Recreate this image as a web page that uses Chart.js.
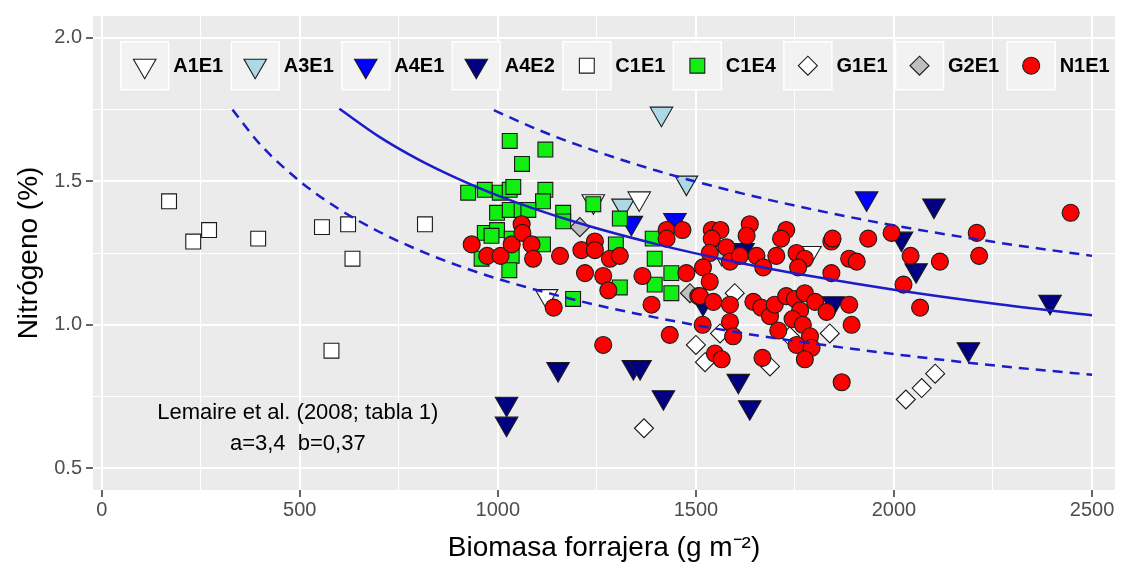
<!DOCTYPE html>
<html>
<head>
<meta charset="utf-8">
<script src="https://cdn.jsdelivr.net/npm/chart.js@4/dist/chart.umd.min.js"></script>
<style>
  body { margin: 0; background: #ffffff; }
  canvas { display: block; }
</style>
</head>
<body>
<canvas id="chart" width="1130" height="567"></canvas>
<script>
// axis breaks (major + minor grid)
var xTicks = [0, 250, 500, 750, 1000, 1250, 1500, 1750, 2000, 2250, 2500];
var yTicks = [0.5, 0.75, 1.0, 1.25, 1.5, 1.75, 2.0];

// A1E1 - white down triangle
var a1e1X = [1123, 1357, 1241, 1788];
var a1e1Y = [1.10, 1.44, 1.43, 1.25];
// A3E1 - light blue down triangle
var a3e1X = [1413, 1476, 1316, 1565];
var a3e1Y = [1.735, 1.495, 1.415, 1.25];
// A4E1 - blue down triangle
var a4e1X = [1337, 1447, 1931];
var a4e1Y = [1.355, 1.365, 1.44];
// A4E2 - navy down triangle
var a4e2X = [2101, 2019, 2056, 1847, 2188, 2394, 1607, 1636, 1418, 1152, 1342, 1359, 1022, 1022, 1518, 1619];
var a4e2Y = [1.415, 1.30, 1.19, 1.075, 0.915, 1.08, 0.805, 0.713, 0.748, 0.846, 0.853, 0.853, 0.725, 0.656, 1.075, 1.26];
// C1E1 - white square
var c1e1X = [170, 231, 271, 395, 556, 622, 633, 816, 580];
var c1e1Y = [1.43, 1.29, 1.33, 1.30, 1.34, 1.35, 1.23, 1.35, 0.91];
// C1E4 - green square
var c1e4X = [1030, 1120, 1061, 925, 967, 1005, 1030, 1039, 1120, 1114, 998, 1030, 1060, 1077, 1165, 1165, 1241, 1308,
             967, 998, 984, 1114, 1035, 1298, 1391, 959, 1035, 1029, 1396, 1438, 1396, 1308, 1438, 1190];
var c1e4Y = [1.64, 1.61, 1.56, 1.46, 1.47, 1.46, 1.47, 1.48, 1.47, 1.43, 1.39, 1.40, 1.40, 1.40, 1.39, 1.36, 1.42, 1.37,
             1.32, 1.33, 1.31, 1.28, 1.30, 1.28, 1.30, 1.23, 1.24, 1.19, 1.23, 1.18, 1.14, 1.13, 1.11, 1.09];
// G1E1 - white diamond
var g1e1X = [1369, 1500, 1523, 1598, 1561, 1687, 1838, 1737, 2104, 2070, 2030];
var g1e1Y = [0.64, 0.93, 0.87, 1.11, 0.97, 0.855, 0.97, 0.96, 0.83, 0.78, 0.74];
// G2E1 - grey diamond
var g2e1X = [1207, 1485];
var g2e1Y = [1.34, 1.11];
// N1E1 - red circle
var n1e1X = [934, 973, 1007, 1035, 1060, 1062, 1085, 1089, 1157, 1211, 1245, 1245, 1283, 1308, 1220, 1266, 1279, 1365,
             1388, 1141, 1426, 1466, 1426, 1476, 1506, 1434, 1540, 1562, 1540, 1636, 1628, 1577, 1535, 1586, 1611, 1653,
             1670, 1703, 1728, 1715, 1518, 1535, 1510, 1544, 1586, 1586, 1517, 1594, 1548, 1565, 1668, 1645, 1665, 1687,
             1699, 1728, 1750, 1775, 1801, 1830, 1763, 1744, 1708, 1770, 1788, 1754, 1792, 1775, 1887, 1893, 1868, 1842,
             1842, 1754, 1775, 1758, 1887, 1906, 1935, 1994, 1845, 2042, 2116, 2024, 2066, 2209, 2215, 2446, 1266];
var n1e1Y = [1.28, 1.24, 1.24, 1.28, 1.35, 1.32, 1.28, 1.23, 1.24, 1.26, 1.29, 1.26, 1.23, 1.24, 1.18, 1.17, 1.12, 1.17,
             1.07, 1.06, 1.33, 1.33, 1.30, 1.18, 1.10, 0.965, 1.33, 1.33, 1.30, 1.35, 1.31, 1.27, 1.25, 1.22, 1.24, 1.24,
             1.20, 1.24, 1.33, 1.30, 1.20, 1.15, 1.10, 1.08, 1.07, 1.01, 1.00, 0.96, 0.90, 0.88, 0.885, 1.08, 1.06, 1.03,
             1.07, 1.10, 1.09, 1.11, 1.08, 1.045, 1.05, 1.02, 0.98, 1.00, 0.96, 0.93, 0.92, 0.88, 1.07, 1.00, 0.80, 1.29,
             1.18, 1.25, 1.23, 1.20, 1.23, 1.22, 1.30, 1.32, 1.30, 1.24, 1.22, 1.14, 1.06, 1.32, 1.24, 1.39, 0.93];

// critical dilution curve (solid) and its bands (dashed)
var curveX = [600, 700, 800, 900, 1000, 1200, 1400, 1600, 1800, 2000, 2250, 2500];
var curveY = [1.752, 1.655, 1.575, 1.508, 1.450, 1.356, 1.281, 1.219, 1.167, 1.122, 1.074, 1.033];
var upperX = [990, 1100, 1200, 1400, 1600, 1800, 2000, 2250, 2500];
var upperY = [1.747, 1.680, 1.627, 1.537, 1.463, 1.400, 1.346, 1.289, 1.240];
var lowerX = [330, 400, 500, 600, 700, 800, 900, 1000, 1200, 1400, 1600, 1800, 2000, 2250, 2500];
var lowerY = [1.749, 1.628, 1.500, 1.402, 1.324, 1.260, 1.206, 1.160, 1.085, 1.025, 0.975, 0.934, 0.898, 0.859, 0.826];

var FONT = "'Liberation Sans', Arial, sans-serif";
var LINE_BLUE = "#1c1cc8";

function pts(xs, ys) {
    return xs.map(function (x, i) { return { x: x, y: ys[i] }; });
}

function group(label, xs, ys, style, fill, radius, order) {
    return {
        label: label,
        data: pts(xs, ys),
        pointStyle: style,
        rotation: style === "triangle" ? 180 : 0,
        pointRadius: radius,
        backgroundColor: fill,
        borderColor: "#1a1a1a",
        borderWidth: 1.1,
        order: order,
        isGroup: true,
    };
}

function curve(xs, ys, dash) {
    return {
        type: "line",
        data: pts(xs, ys),
        showLine: true,
        borderColor: LINE_BLUE,
        borderWidth: 2.5,
        borderDash: dash,
        pointRadius: 0,
        cubicInterpolationMode: "monotone",
        fill: false,
        order: 0,
    };
}

function isMajor(v, step) {
    var r = v / step;
    return Math.abs(r - Math.round(r)) < 1e-9;
}

// grey panel behind the grid
var panelBg = {
    id: "panelBg",
    beforeDraw: function (chart) {
        var a = chart.chartArea;
        var ctx = chart.ctx;
        ctx.save();
        ctx.fillStyle = "#ebebeb";
        ctx.fillRect(a.left, a.top, a.right - a.left, a.bottom - a.top);
        ctx.restore();
    },
};

function shape(ctx, style, r, x, y) {
    ctx.beginPath();
    if (style === "circle") {
        ctx.arc(x, y, r, 0, Math.PI * 2);
    } else if (style === "rect") {
        var s = Math.SQRT1_2 * r;
        ctx.rect(x - s, y - s, 2 * s, 2 * s);
    } else if (style === "rectRot") {
        ctx.moveTo(x - r, y);
        ctx.lineTo(x, y - r);
        ctx.lineTo(x + r, y);
        ctx.lineTo(x, y + r);
    } else {
        ctx.moveTo(x, y + r);
        ctx.lineTo(x - 0.866 * r, y - 0.5 * r);
        ctx.lineTo(x + 0.866 * r, y - 0.5 * r);
    }
    ctx.closePath();
}

// horizontal legend drawn inside the panel, ggplot style
var insideLegend = {
    id: "insideLegend",
    afterDraw: function (chart) {
        var ctx = chart.ctx;
        var x = 120.7, top = 41.7, key = 48;
        ctx.save();
        ctx.font = "bold 20px " + FONT;
        ctx.textBaseline = "middle";
        ctx.textAlign = "left";
        chart.data.datasets.forEach(function (ds) {
            if (!ds.isGroup) return;
            ctx.fillStyle = "#f2f2f2";
            ctx.fillRect(x, top, key, key);
            ctx.strokeStyle = "#ffffff";
            ctx.lineWidth = 1.5;
            ctx.strokeRect(x, top, key, key);
            shape(ctx, ds.pointStyle, ds.pointRadius, x + key / 2, top + key / 2);
            ctx.fillStyle = ds.backgroundColor;
            ctx.fill();
            ctx.strokeStyle = ds.borderColor;
            ctx.lineWidth = ds.borderWidth;
            ctx.stroke();
            ctx.fillStyle = "#000000";
            ctx.fillText(ds.label, x + key + 4.5, top + key / 2 + 1);
            x += key + 4.5 + ctx.measureText(ds.label).width + 8;
        });
        ctx.restore();
    },
};

// text annotation placed in data coordinates
var noteX = 495;
var noteLines = ["Lemaire et al. (2008; tabla 1)", "a=3,4  b=0,37"];
var noteY = [0.693, 0.585];
var annotation = {
    id: "annotation",
    afterDatasetsDraw: function (chart) {
        var ctx = chart.ctx;
        var sx = chart.scales.x, sy = chart.scales.y;
        ctx.save();
        ctx.font = "22px " + FONT;
        ctx.fillStyle = "#000000";
        ctx.textAlign = "center";
        ctx.textBaseline = "middle";
        noteLines.forEach(function (t, i) {
            ctx.fillText(t, sx.getPixelForValue(noteX), sy.getPixelForValue(noteY[i]));
        });
        ctx.restore();
    },
};

var datasets = [
    group("A1E1", a1e1X, a1e1Y, "triangle", "#ffffff", 13, 5),
    group("A3E1", a3e1X, a3e1Y, "triangle", "#add8e6", 13, 5),
    group("A4E1", a4e1X, a4e1Y, "triangle", "#0000ff", 13, 4),
    group("A4E2", a4e2X, a4e2Y, "triangle", "#000080", 13, 4),
    group("C1E1", c1e1X, c1e1Y, "rect", "#ffffff", 10.5, 3),
    group("C1E4", c1e4X, c1e4Y, "rect", "#11ee11", 10.5, 2),
    group("G1E1", g1e1X, g1e1Y, "rectRot", "#ffffff", 9.5, 3),
    group("G2E1", g2e1X, g2e1Y, "rectRot", "#bebebe", 9.5, 3),
    group("N1E1", n1e1X, n1e1Y, "circle", "#ff0000", 8.5, 1),
    curve(curveX, curveY, []),
    curve(upperX, upperY, [10, 7]),
    curve(lowerX, lowerY, [10, 7]),
];

new Chart(document.getElementById("chart"), {
    type: "scatter",
    data: { datasets: datasets },
    plugins: [panelBg, insideLegend, annotation],
    options: {
        responsive: false,
        animation: false,
        events: [],
        layout: { padding: { top: 10, right: 15, left: 0, bottom: 0 } },
        plugins: {
            legend: { display: false },
            tooltip: { enabled: false },
        },
        scales: {
            x: {
                type: "linear",
                min: -22,
                max: 2558,
                afterBuildTicks: function (s) {
                    s.ticks = xTicks.map(function (v) { return { value: v }; });
                },
                afterFit: function (s) { s.height = 77; },
                border: { display: false },
                grid: {
                    color: "#ffffff",
                    lineWidth: function (c) { return c.tick && isMajor(c.tick.value, 500) ? 2 : 1; },
                    tickLength: 7,
                    tickWidth: 1.5,
                    tickColor: function (c) { return c.tick && isMajor(c.tick.value, 500) ? "#333333" : "rgba(0,0,0,0)"; },
                },
                ticks: {
                    autoSkip: false,
                    maxRotation: 0,
                    padding: 1,
                    color: "#4d4d4d",
                    font: { size: 20, family: FONT },
                    callback: function (v) { return isMajor(v, 500) ? String(v) : ""; },
                },
                title: {
                    display: true,
                    text: "Biomasa forrajera (g m\u207B\u00B2)",
                    color: "#000000",
                    font: { size: 28, family: FONT },
                    padding: { top: 0, bottom: 2 },
                },
            },
            y: {
                type: "linear",
                min: 0.425,
                max: 2.075,
                afterBuildTicks: function (s) {
                    s.ticks = yTicks.map(function (v) { return { value: v }; });
                },
                afterFit: function (s) { s.width = 93; },
                border: { display: false },
                grid: {
                    color: "#ffffff",
                    lineWidth: function (c) { return c.tick && isMajor(c.tick.value, 0.5) ? 2 : 1; },
                    tickLength: 7,
                    tickWidth: 1.5,
                    tickColor: function (c) { return c.tick && isMajor(c.tick.value, 0.5) ? "#333333" : "rgba(0,0,0,0)"; },
                },
                ticks: {
                    autoSkip: false,
                    padding: 4,
                    color: "#4d4d4d",
                    font: { size: 20, family: FONT },
                    callback: function (v) { return isMajor(v, 0.5) ? v.toFixed(1) : ""; },
                },
                title: {
                    display: true,
                    text: "Nitrógeno (%)",
                    color: "#000000",
                    font: { size: 28, family: FONT },
                    padding: { top: 12, bottom: 0 },
                },
            },
        },
    },
});
</script>
</body>
</html>
